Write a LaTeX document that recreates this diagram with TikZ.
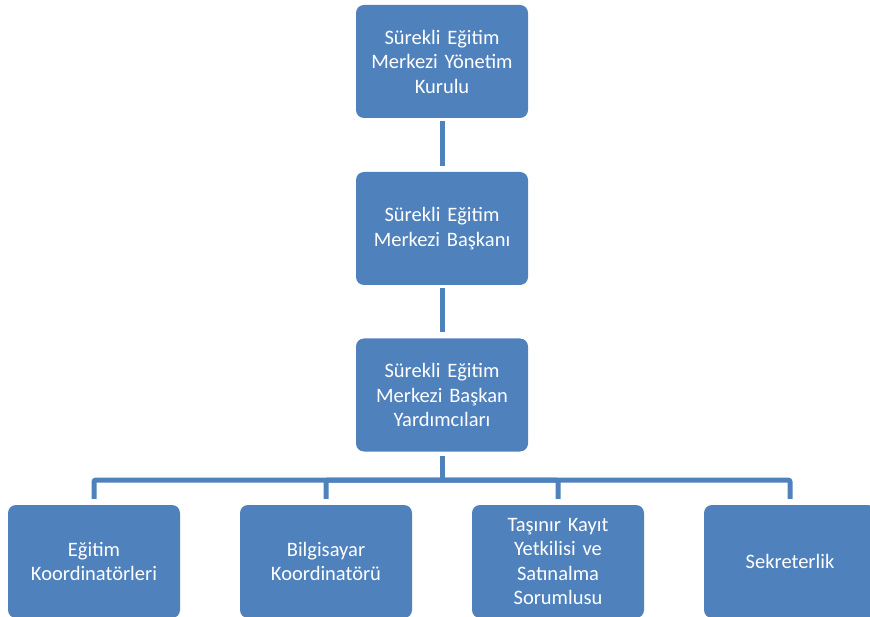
\documentclass[tikz,border=0pt]{standalone}
\usepackage{fontspec}
\setmainfont{Carlito}
\definecolor{boxblue}{HTML}{4F81BD}
\begin{document}
\begin{tikzpicture}[x=1pt,y=1pt,
  unit/.style={fill=boxblue, rounded corners=8pt, minimum width=172pt,
    minimum height=113pt, text width=164pt, align=center, text=white,
    font=\fontsize{20.5}{24.5}\selectfont, inner sep=0pt},
  conn/.style={draw=boxblue, line width=5pt, rounded corners=2pt}]
\useasboundingbox (0,0) rectangle (870,-617);

% Top chain
\node[unit] (kurul) at (442,-61.5) {Sürekli Eğitim\\Merkezi Yönetim\\Kurulu};
\node[unit] (baskan) at (442,-228.5) {Sürekli Eğitim\\Merkezi Başkanı};
\node[unit] (yard) at (442,-395) {Sürekli Eğitim\\Merkezi Başkan\\Yardımcıları};

% Bottom row
\node[unit] (egitim) at (94,-561.5) {Eğitim\\Koordinatörleri};
\node[unit] (bilgisayar) at (326,-561.5) {Bilgisayar\\Koordinatörü};
\node[unit] (tasinir) at (558,-561.5) {Taşınır Kayıt\\Yetkilisi ve\\Satınalma\\Sorumlusu};
\node[unit] (sekreter) at (790,-561.5) {Sekreterlik};

% Connectors
\coordinate (bus) at (442,-480);
\draw[conn] ([yshift=-3pt]kurul.south) -- ([yshift=6pt]baskan.north);
\draw[conn] ([yshift=-3pt]baskan.south) -- ([yshift=6pt]yard.north);
\draw[conn] ([yshift=-4pt]yard.south) -- (bus);
\foreach \n in {egitim,bilgisayar,tasinir,sekreter}
  \draw[conn] (bus) -| ([yshift=6pt]\n.north);
\end{tikzpicture}
\end{document}
